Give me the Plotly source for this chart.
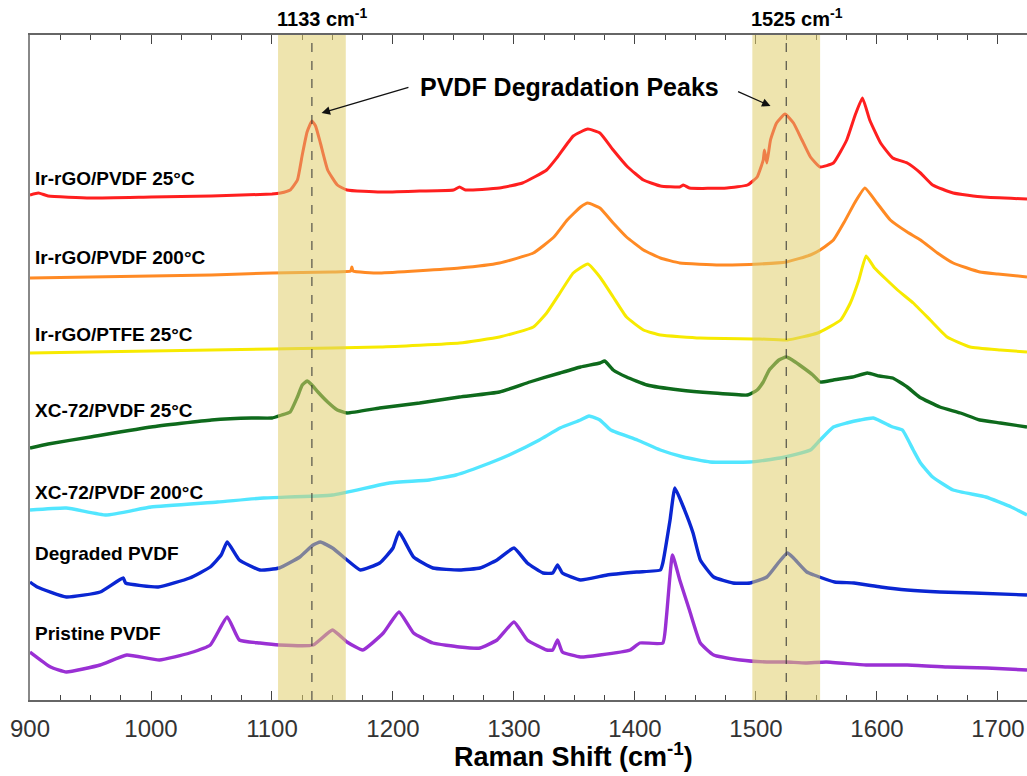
import plotly.graph_objects as go

# ---------------- data (Raman shift in cm-1, offset intensity in a.u.) ----------------
ir_pvdf25_x = [900, 907, 915, 950, 1000, 1050, 1100, 1107, 1115, 1121, 1125, 1129, 1133, 1136, 1140, 1146, 1154, 1162, 1190, 1222, 1250, 1255, 1260, 1288, 1307, 1327, 1336, 1349, 1361, 1371, 1382, 1394, 1407, 1421, 1437, 1440, 1445, 1476, 1493, 1501, 1506, 1507, 1509, 1512, 1517, 1524, 1531, 1538, 1545, 1553, 1564, 1575, 1582, 1588, 1594, 1603, 1613, 1625, 1636, 1646, 1663, 1688, 1724]
ir_pvdf25_y = [505, 507, 504, 502, 503, 504, 506, 507, 510, 520, 545, 568, 579, 574, 557, 530, 515, 510, 508, 509, 510, 513, 510, 512, 517, 530, 543, 564, 571, 567, 550, 533, 520, 514, 513, 515, 512, 512, 515, 523, 540, 550, 537, 560, 577, 586, 577, 560, 543, 533, 537, 560, 585, 602, 580, 557, 542, 537, 527, 515, 507, 503, 501]

ir_pvdf200_x = [900, 950, 1000, 1050, 1100, 1150, 1165, 1166, 1167, 1189, 1255, 1288, 1316, 1333, 1344, 1355, 1361, 1371, 1382, 1393, 1407, 1421, 1437, 1470, 1503, 1525, 1545, 1553, 1564, 1573, 1582, 1590, 1600, 1611, 1625, 1636, 1650, 1663, 1685, 1700, 1724]
ir_pvdf200_y = [422, 423, 424, 425, 427, 428, 429, 433, 429, 427, 432, 437, 447, 463, 480, 493, 497, 492, 477, 463, 450, 442, 437, 435, 436, 438, 445, 450, 460, 478, 498, 512, 497, 480, 468, 460, 447, 437, 428, 426, 423]

ir_ptfe25_x = [900, 1000, 1100, 1150, 1189, 1255, 1288, 1316, 1327, 1338, 1349, 1361, 1371, 1382, 1393, 1407, 1421, 1454, 1503, 1526, 1551, 1570, 1578, 1585, 1591, 1598, 1617, 1630, 1644, 1658, 1677, 1702, 1724]
ir_ptfe25_y = [347, 349, 351, 352, 353, 357, 363, 373, 387, 407, 427, 436, 423, 403, 383, 370, 365, 362, 361, 360, 367, 380, 397, 420, 444, 432, 410, 397, 380, 363, 353, 350, 348]

xc_pvdf25_x = [900, 915, 950, 1000, 1050, 1083, 1100, 1108, 1115, 1121, 1125, 1129, 1133, 1138, 1146, 1154, 1162, 1189, 1222, 1255, 1288, 1313, 1338, 1355, 1371, 1375, 1382, 1393, 1410, 1437, 1465, 1493, 1501, 1506, 1511, 1519, 1525, 1530, 1536, 1547, 1553, 1564, 1580, 1592, 1602, 1613, 1625, 1635, 1652, 1669, 1685, 1702, 1724]
xc_pvdf25_y = [252, 256, 263, 273, 280, 282, 282, 285, 288, 303, 315, 319, 315, 308, 298, 290, 287, 292, 297, 303, 308, 318, 327, 333, 337, 339, 330, 323, 315, 310, 307, 305, 310, 318, 330, 340, 343, 340, 335, 325, 318, 320, 323, 327, 324, 322, 313, 303, 293, 287, 280, 277, 273]

xc_pvdf200_x = [900, 930, 963, 1000, 1055, 1093, 1150, 1197, 1230, 1252, 1280, 1296, 1321, 1338, 1355, 1362, 1371, 1380, 1402, 1421, 1440, 1462, 1495, 1520, 1545, 1553, 1564, 1575, 1586, 1597, 1613, 1621, 1630, 1636, 1646, 1663, 1690, 1711, 1724]
xc_pvdf200_y = [190, 192, 185, 193, 198, 202, 205, 217, 220, 225, 237, 245, 260, 272, 280, 284, 280, 270, 260, 250, 243, 238, 238, 242, 250, 260, 273, 277, 280, 282, 273, 270, 250, 237, 223, 210, 203, 193, 185]

degraded_x = [900, 906, 930, 958, 977, 979, 1006, 1032, 1049, 1058, 1063, 1073, 1090, 1106, 1123, 1134, 1140, 1150, 1162, 1173, 1189, 1200, 1205, 1217, 1233, 1255, 1272, 1286, 1300, 1311, 1324, 1332, 1336, 1340, 1355, 1377, 1402, 1421, 1423, 1429, 1433, 1440, 1448, 1454, 1465, 1481, 1495, 1509, 1519, 1526, 1531, 1542, 1548, 1565, 1581, 1603, 1625, 1652, 1680, 1724]
degraded_y = [118, 113, 103, 108, 122, 117, 113, 122, 133, 145, 158, 140, 130, 132, 143, 155, 158, 152, 140, 130, 137, 152, 168, 143, 132, 130, 132, 140, 152, 137, 127, 127, 135, 127, 120, 125, 128, 130, 137, 180, 212, 193, 167, 140, 123, 117, 117, 123, 138, 147, 142, 128, 125, 118, 117, 113, 110, 108, 107, 105]

pristine_x = [900, 917, 930, 958, 980, 1007, 1032, 1049, 1063, 1073, 1090, 1106, 1134, 1150, 1162, 1175, 1192, 1205, 1217, 1233, 1255, 1272, 1286, 1300, 1311, 1327, 1332, 1336, 1340, 1355, 1371, 1396, 1404, 1423, 1426, 1431, 1437, 1445, 1454, 1465, 1487, 1509, 1525, 1541, 1558, 1591, 1625, 1658, 1691, 1724]
pristine_y = [48, 33, 28, 35, 45, 40, 47, 55, 83, 60, 57, 55, 55, 70, 58, 50, 67, 88, 67, 57, 53, 52, 60, 78, 60, 50, 50, 60, 48, 43, 45, 50, 57, 57, 83, 145, 120, 90, 57, 45, 40, 38, 38, 37, 38, 35, 35, 33, 32, 30]

series_names = ["Ir-rGO/PVDF 25°C", "Ir-rGO/PVDF 200°C", "Ir-rGO/PTFE 25°C", "XC-72/PVDF 25°C",
                "XC-72/PVDF 200°C", "Degraded PVDF", "Pristine PVDF"]
series_x = [ir_pvdf25_x, ir_pvdf200_x, ir_ptfe25_x, xc_pvdf25_x, xc_pvdf200_x, degraded_x, pristine_x]
series_y = [ir_pvdf25_y, ir_pvdf200_y, ir_ptfe25_y, xc_pvdf25_y, xc_pvdf200_y, degraded_y, pristine_y]
label_y = [522, 443, 366, 290, 208, 147, 67]

peak_positions = [1133, 1525]
band_half_width = 28
x_ticks = [900, 1000, 1100, 1200, 1300, 1400, 1500, 1600, 1700]

# ---------------- styling ----------------
colors = ["#ff1f1f", "#ff8a24", "#f7ea00", "#0e6a1c", "#52e6ff", "#0a26d2", "#9a30d4"]
widths = [3, 3, 3, 3.4, 3.4, 3.4, 3.4]
FONT = "Liberation Sans, Arial, sans-serif"

fig = go.Figure()
for name, xs, ys, c, w in zip(series_names, series_x, series_y, colors, widths):
    fig.add_trace(go.Scatter(x=xs, y=ys, mode="lines", name=name,
                             line=dict(color=c, width=w, shape="spline", smoothing=0.4),
                             showlegend=False))

shapes = []
for p in peak_positions:
    shapes.append(dict(type="rect", xref="x", yref="paper", x0=p - band_half_width, x1=p + band_half_width,
                       y0=0, y1=1, fillcolor="rgb(224,206,108)", opacity=0.55, line=dict(width=0), layer="above"))
for p in peak_positions:
    shapes.append(dict(type="line", xref="x", yref="paper", x0=p, x1=p, y0=0, y1=1,
                       line=dict(color="#333333", width=1, dash="dash"), layer="above"))

annotations = []
for name, ly in zip(series_names, label_y):
    annotations.append(dict(x=902.5, y=ly, xref="x", yref="y", text=f"<b>{name}</b>", showarrow=False,
                            xanchor="left", yanchor="middle", font=dict(family=FONT, size=19, color="black")))
for p in peak_positions:
    annotations.append(dict(x=p, y=1.026, xref="x", yref="paper", text=f"<b>{p} cm<sup>-1</sup></b>",
                            showarrow=False, xanchor="center", yanchor="middle", xshift=11,
                            font=dict(family=FONT, size=20, color="black")))
annotations.append(dict(x=1346, y=613, xref="x", yref="y", text="<b>PVDF Degradation Peaks</b>", showarrow=False,
                        xanchor="center", yanchor="middle", font=dict(family=FONT, size=25, color="black")))
annotations.append(dict(x=1141, y=587, ax=1214, ay=613, xref="x", yref="y", axref="x", ayref="y", text="",
                        showarrow=True, arrowhead=2, arrowsize=1.3, arrowwidth=1.3, arrowcolor="#111111"))
annotations.append(dict(x=1512, y=594, ax=1484, ay=609, xref="x", yref="y", axref="x", ayref="y", text="",
                        showarrow=True, arrowhead=2, arrowsize=1.3, arrowwidth=1.3, arrowcolor="#111111"))
annotations.append(dict(x=1349, y=-0.083, xref="x", yref="paper", text="<b>Raman Shift (cm<sup>-1</sup>)</b>",
                        showarrow=False, xanchor="center", yanchor="middle",
                        font=dict(family=FONT, size=27, color="black")))

fig.update_layout(
    width=1027, height=776,
    margin=dict(l=30, r=0, t=35, b=76, pad=0),
    paper_bgcolor="white", plot_bgcolor="white",
    shapes=shapes, annotations=annotations,
    xaxis=dict(range=[900, 1724], tickvals=x_ticks, ticks="inside", ticklen=9, tickwidth=1.3,
               tickcolor="#444444", showline=True, linecolor="#666666", linewidth=2, mirror="ticks",
               showgrid=False, zeroline=False, ticklabelstandoff=6,
               minor=dict(dtick=25, tick0=900, ticks="inside", ticklen=5, tickwidth=1, tickcolor="#444444"),
               tickfont=dict(family=FONT, size=24, color="#333333")),
    yaxis=dict(range=[0, 665], showticklabels=False, ticks="", showgrid=False, zeroline=False,
               showline=True, linecolor="#888888", linewidth=2),
)

fig.write_html("out.html")
